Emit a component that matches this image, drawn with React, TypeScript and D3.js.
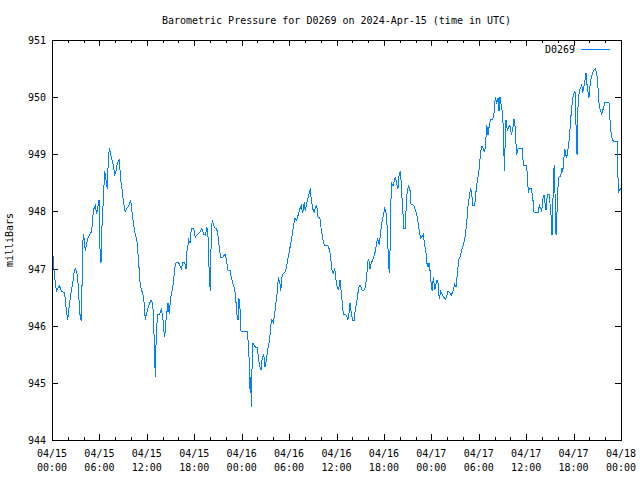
import React from "react";
import * as d3 from "d3";

// Hours since 2024-04-15 00:00 UTC
const hours = [
  0.09, 0.16, 0.34, 0.47, 0.59, 0.92, 1.23, 1.52, 1.65, 1.86, 1.99, 2.15, 2.37, 2.62, 2.82, 2.95, 3.13, 3.29, 3.42, 3.54, 3.67, 3.76, 3.83, 3.96, 4.09, 4.21, 4.39, 4.59, 4.81, 5.02, 5.15, 5.31, 5.48, 5.66, 5.82, 5.95, 6.07, 6.2, 6.33, 6.49, 6.67, 6.83, 7.0, 7.12, 7.25, 7.43, 7.59, 7.76, 7.93, 8.1, 8.26, 8.52, 8.69, 8.86, 9.02, 9.24, 9.45, 9.71, 9.96, 10.16, 10.29,
  10.54, 10.76, 10.97, 11.17, 11.39, 11.6, 11.81, 11.93, 12.24, 12.53, 12.74, 12.87, 13.0, 13.07, 13.2, 13.38, 13.63, 13.83, 14.05, 14.17, 14.26, 14.43, 14.68, 14.84, 15.02, 15.18, 15.4, 15.53, 15.69, 16.03, 16.36, 16.54, 16.79, 16.96, 17.08, 17.3, 17.46, 17.63, 17.93, 18.13, 18.44, 18.77, 18.98, 19.2, 19.4, 19.61, 19.74, 19.9, 20.03, 20.16, 20.28, 20.46, 20.66,
  20.84, 21.01, 21.17, 21.35, 21.6, 21.89, 22.06, 22.27, 22.52, 22.69, 22.9, 23.12, 23.25, 23.37, 23.54, 23.66, 23.79, 23.92, 24.3, 24.71, 24.84, 24.97, 25.06, 25.14, 25.22, 25.31, 25.43, 25.6, 25.78, 25.98, 26.16, 26.28, 26.45, 26.61, 26.79, 26.95, 27.12, 27.33, 27.55, 27.67, 27.8, 28.0, 28.18, 28.34, 28.51, 28.64, 28.81, 28.94, 29.07, 29.23, 29.45, 29.65, 29.78, 29.99, 30.21, 30.41, 30.53, 30.75, 30.96,
  31.22, 31.38, 31.55, 31.72, 31.93, 32.05, 32.23, 32.43, 32.56, 32.69, 32.81, 32.99, 33.19, 33.32, 33.5, 33.66, 33.91, 34.08, 34.25, 34.46, 34.89, 35.09, 35.27, 35.43, 35.6, 35.77, 35.94, 36.1, 36.28, 36.44, 36.57, 36.73, 36.86, 37.08, 37.29, 37.42, 37.54, 37.71, 37.87, 38.05, 38.25, 38.38, 38.56, 38.68, 38.89, 39.06, 39.23, 39.48, 39.65, 39.82, 39.95, 40.08, 40.24, 40.4, 40.58, 40.75, 40.91, 41.09, 41.21, 41.42,
  41.59, 41.76, 41.92, 42.1, 42.26, 42.43, 42.56, 42.68, 42.77, 42.86, 42.99, 43.15, 43.28, 43.44, 43.62, 43.78, 43.87, 44.04, 44.16, 44.29, 44.45, 44.54, 44.71, 44.83, 44.96, 45.14, 45.3, 45.43, 45.59, 45.81, 45.97, 46.15, 46.31, 46.48, 46.66, 46.82, 46.98, 47.16, 47.33, 47.45, 47.58, 47.71, 47.83, 48.0, 48.12, 48.25, 48.43, 48.59, 48.72, 48.84, 49.01, 49.19, 49.35, 49.57, 49.77, 49.95, 50.11, 50.33, 50.53, 50.74, 50.96, 51.12, 51.29, 51.46, 51.63, 51.79,
  52.05, 52.26, 52.48, 52.64, 52.81, 52.98, 53.11, 53.24, 53.49, 53.62, 53.74, 53.91, 54.07, 54.25, 54.41, 54.58, 54.7, 54.83, 55.01, 55.17, 55.34, 55.51, 55.77, 55.93, 56.1, 56.27, 56.44, 56.56, 56.69, 56.85, 57.03, 57.16, 57.24, 57.32, 57.45, 57.61, 57.79, 57.95, 58.12, 58.29, 58.46, 58.59, 58.71, 58.8, 58.97, 59.51, 59.64, 59.98, 60.15, 60.27, 60.4, 60.65, 60.83, 60.99, 61.54, 61.67, 61.84, 61.97,
  62.09, 62.26, 62.38, 62.51, 62.67, 62.92, 63.01, 63.14, 63.27, 63.36, 63.43, 63.56, 63.69, 63.78, 63.87, 63.99, 64.12, 64.37, 64.5, 64.63, 64.76, 64.89, 65.01, 65.14, 65.3, 65.46, 65.64, 65.8, 65.97, 66.1, 66.22, 66.31, 66.44, 66.56, 66.73, 66.9, 67.03, 67.16, 67.28, 67.45, 67.57, 67.7, 67.83, 67.95, 68.08, 68.24, 68.41, 68.57, 68.74, 68.92, 69.05, 69.22, 69.38, 69.56, 69.76, 69.96, 70.48, 70.61, 70.78, 71.03, 71.5, 71.59, 71.67, 71.8, 71.97,
];

// Barometric pressure, milliBars
const pressure = [
  947.3, 947.15, 946.86, 946.68, 946.62, 946.7, 946.6, 946.58, 946.5, 946.22, 946.1, 946.3, 946.55, 946.75, 946.95, 947.0, 946.95, 946.75, 946.45, 946.2, 946.1, 946.1, 947.2, 947.6, 947.5, 947.3, 947.45, 947.55, 947.6, 947.65, 947.9, 948.05, 948.1, 947.95, 948.1, 948.2, 947.35, 947.1, 947.75, 948.2, 948.7, 948.55, 948.4, 948.9, 949.1, 949.0, 948.9, 948.8, 948.65, 948.7, 948.85, 948.9, 948.55, 948.4, 948.2, 948.0, 948.05, 948.1, 948.2, 947.95, 947.8,
  947.6, 947.47, 947.1, 946.7, 946.6, 946.5, 946.1, 946.2, 946.35, 946.45, 946.4, 946.05, 945.4, 945.1, 945.9, 946.2, 946.2, 946.3, 946.1, 945.9, 945.8, 946.1, 946.4, 946.2, 946.5, 946.6, 946.8, 947.0, 947.1, 947.1, 947.0, 947.1, 947.1, 947.0, 947.3, 947.5, 947.45, 947.7, 947.7, 947.55, 947.6, 947.65, 947.7, 947.6, 947.58, 947.72, 947.55, 946.9, 946.6, 947.65, 947.85, 947.75, 947.7,
  947.7, 947.56, 947.36, 947.2, 947.2, 947.25, 947.16, 946.97, 946.97, 946.85, 946.73, 946.64, 946.48, 946.22, 946.1, 946.48, 946.3, 945.9, 945.9, 945.9, 945.7, 945.35, 944.87, 945.1, 944.58, 945.25, 945.7, 945.65, 945.62, 945.62, 945.4, 945.3, 945.23, 945.44, 945.5, 945.27, 945.4, 945.6, 945.77, 946.0, 946.1, 946.05, 946.2, 946.4, 946.6, 946.83, 946.78, 946.6, 946.83, 946.9, 946.93, 947.0, 947.12, 947.27, 947.44, 947.61, 947.73, 947.88, 947.85,
  947.97, 948.05, 948.1, 947.97, 948.17, 948.0, 948.15, 948.25, 948.33, 948.4, 948.2, 948.05, 947.97, 948.08, 948.1, 947.9, 947.88, 947.67, 947.53, 947.41, 947.4, 947.34, 947.19, 946.97, 946.92, 947.0, 946.8, 946.67, 946.63, 946.8, 946.63, 946.4, 946.2, 946.2, 946.17, 946.1, 946.17, 946.4, 946.22, 946.1, 946.1, 946.3, 946.4, 946.55, 946.7, 946.7, 946.62, 946.62, 946.67, 946.85, 947.12, 947.17, 947.0, 947.1, 947.15, 947.22, 947.3, 947.46, 947.52, 947.42,
  947.65, 947.82, 947.93, 948.05, 947.98, 947.7, 947.18, 946.92, 947.3, 948.11, 948.49, 948.45, 948.52, 948.6, 948.49, 948.4, 948.6, 948.7, 948.55, 948.23, 947.88, 947.7, 947.7, 948.13, 948.37, 948.45, 948.37, 948.13, 948.12, 948.1, 948.02, 947.95, 947.82, 947.65, 947.53, 947.56, 947.6, 947.41, 947.27, 947.09, 947.03, 947.09, 946.97, 946.71, 946.6, 946.86, 946.63, 946.73, 946.8, 946.76, 946.46, 946.6, 946.55, 946.5, 946.46, 946.52, 946.6, 946.58, 946.54, 946.6, 946.73, 946.68, 946.9, 947.15, 947.2, 947.3,
  947.41, 947.55, 947.8, 948.09, 948.27, 948.4, 948.3, 948.11, 948.11, 948.3, 948.47, 948.6, 948.77, 949.05, 949.14, 949.1, 949.05, 949.1, 949.51, 949.34, 949.51, 949.61, 949.61, 949.72, 950.0, 949.9, 949.98, 949.75, 950.0, 949.85, 949.7, 949.19, 948.7, 949.09, 949.6, 949.42, 949.48, 949.5, 949.36, 949.42, 949.61, 949.5, 949.19, 948.99, 949.1, 949.1, 948.81, 948.81, 948.67, 948.32, 948.4, 948.4, 948.25, 947.99, 947.99, 948.11, 948.05, 948.0,
  948.21, 948.29, 948.15, 948.03, 948.29, 948.3, 948.15, 947.94, 947.59, 947.83, 948.6, 948.81, 948.1, 947.59, 947.85, 948.34, 948.6, 948.62, 948.75, 948.7, 948.9, 949.1, 948.98, 948.95, 949.1, 949.27, 949.63, 949.86, 950.04, 950.1, 950.07, 949.5, 948.99, 949.83, 950.13, 950.16, 950.22, 950.08, 950.16, 950.31, 950.42, 950.22, 950.08, 949.99, 950.2, 950.36, 950.42, 950.47, 950.5, 950.42, 950.25, 949.89, 949.77, 949.71, 949.8, 949.9, 949.9, 949.6, 949.31, 949.23, 949.23, 948.75, 948.32, 948.37, 948.4,
];

const yTicks = [944, 945, 946, 947, 948, 949, 950, 951];
const titleText = "Barometric Pressure for D0269 on 2024-Apr-15 (time in UTC)";
const yLabel = "milliBars";
const seriesName = "D0269";

const W = 640, H = 480;
const L = 52, R = 621, T = 40, B = 440;
const FONT = "'DejaVu Sans Mono', monospace";
const COLOR = "#0080ff";

export default function App() {
  const start = new Date(Date.UTC(2024, 3, 15, 0, 0));
  const end = new Date(Date.UTC(2024, 3, 18, 0, 0));
  const x = d3.scaleUtc().domain([start, end]).range([L, R]);
  const y = d3.scaleLinear().domain([944, 951]).range([B, T]);
  const data = hours.map((h, i) => ({ t: new Date(start.getTime() + h * 3600000), v: pressure[i] }));
  const line = d3.line<{ t: Date; v: number }>().x(d => x(d.t)).y(d => y(d.v));
  const major = x.ticks(d3.utcHour.every(6)!);
  const minor = x.ticks(d3.utcHour.every(2)!).filter(d => d.getUTCHours() % 6 !== 0);
  const fDate = d3.utcFormat("%m/%d");
  const fTime = d3.utcFormat("%H:%M");
  const px = (v: number) => Math.round(v) + 0.5;

  return (
    <svg width={W} height={H} style={{ position: "absolute", left: 0, top: 0, background: "#fff" }} fontFamily={FONT} fontSize={10}>
      <rect x={0} y={0} width={W} height={H} fill="#fff" />
      <text x={(L + R) / 2} y={24} textAnchor="middle">{titleText}</text>
      <text transform={`translate(13,240) rotate(-90)`} textAnchor="middle">{yLabel}</text>
      {/* y ticks */}
      {yTicks.map(v => (
        <g key={v}>
          <line x1={L} x2={L + 6} y1={px(y(v))} y2={px(y(v))} stroke="#000" />
          <line x1={R - 6} x2={R} y1={px(y(v))} y2={px(y(v))} stroke="#000" />
          <text x={46} y={y(v) + 4} textAnchor="end">{v}</text>
        </g>
      ))}
      {/* x ticks */}
      {major.map((d, i) => (
        <g key={"M" + i}>
          <line x1={px(x(d))} x2={px(x(d))} y1={B} y2={B - 6} stroke="#000" />
          <line x1={px(x(d))} x2={px(x(d))} y1={T} y2={T + 6} stroke="#000" />
          <text x={x(d)} y={457} textAnchor="middle">{fDate(d)}</text>
          <text x={x(d)} y={471} textAnchor="middle">{fTime(d)}</text>
        </g>
      ))}
      {minor.map((d, i) => (
        <g key={"m" + i}>
          <line x1={px(x(d))} x2={px(x(d))} y1={B} y2={B - 3} stroke="#000" />
          <line x1={px(x(d))} x2={px(x(d))} y1={T} y2={T + 3} stroke="#000" />
        </g>
      ))}
      <path d={line(data) || ""} fill="none" stroke={COLOR} strokeWidth={1} shapeRendering="crispEdges" />
      <rect x={L + 0.5} y={T + 0.5} width={R - L} height={B - T} fill="none" stroke="#000" />
      {/* legend */}
      <text x={575} y={53} textAnchor="end">{seriesName}</text>
      <line x1={581} x2={610} y1={49.5} y2={49.5} stroke={COLOR} />
    </svg>
  );
}
